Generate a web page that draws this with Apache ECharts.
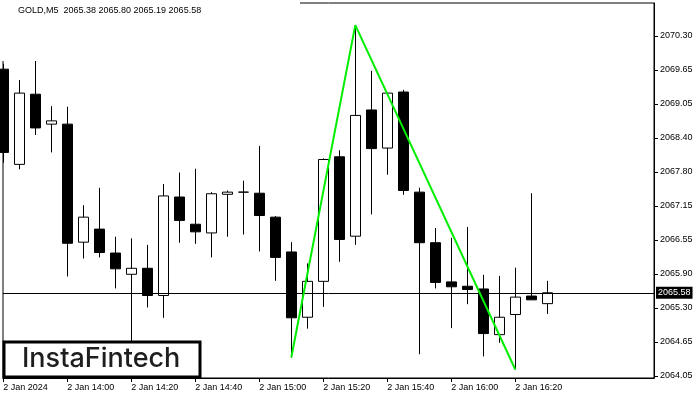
<!DOCTYPE html>
<html>
<head>
<meta charset="utf-8">
<script src="https://cdn.jsdelivr.net/npm/echarts@6/dist/echarts.min.js"></script>
<style>
html,body{margin:0;padding:0;background:#fff;}
#chart{width:700px;height:400px;}
</style>
</head>
<body>
<div id="chart"></div>
<script>
// Candle index (5-minute bars starting at 2 Jan 13:40)
var candleIndex = [0,1,2,3,4,5,6,7,8,9,10,11,12,13,14,15,16,17,18,19,20,21,22,23,24,25,26,27,28,29,30,31,32,33,34];
var opens  = [2069.69,2067.94,2069.23,2068.68,2068.68,2066.51,2066.75,2066.31,2065.92,2066.03,2065.53,2067.34,2066.84,2066.68,2067.39,2067.43,2067.41,2066.97,2066.33,2065.13,2065.79,2068.08,2066.62,2068.94,2068.24,2069.27,2067.43,2066.50,2065.78,2065.70,2065.65,2064.81,2065.18,2065.52,2065.38];
var highs  = [2069.79,2069.49,2069.84,2069.01,2069.00,2067.19,2067.51,2066.61,2066.58,2066.46,2067.58,2067.79,2067.86,2067.43,2067.46,2067.64,2068.28,2066.99,2066.51,2066.12,2068.05,2068.20,2070.50,2069.66,2069.26,2069.31,2067.51,2066.77,2066.59,2066.79,2065.91,2065.89,2066.04,2067.41,2065.80];
var lows   = [2067.97,2067.85,2068.48,2068.16,2065.88,2066.21,2066.23,2065.66,2064.62,2065.31,2065.12,2066.50,2066.48,2066.23,2066.61,2066.65,2066.34,2065.80,2064.39,2064.92,2065.32,2066.15,2066.46,2067.02,2067.75,2067.38,2064.45,2065.66,2064.93,2065.37,2064.41,2064.66,2064.17,2065.45,2065.19];
var closes = [2068.16,2069.25,2068.61,2068.74,2066.49,2066.97,2066.32,2066.02,2066.03,2065.53,2067.36,2066.91,2066.70,2067.40,2067.43,2067.43,2067.00,2066.23,2065.12,2065.79,2068.03,2066.56,2068.84,2068.23,2069.25,2067.46,2066.50,2065.77,2065.69,2065.64,2064.83,2065.13,2065.50,2065.45,2065.58];

// Double top pattern line: [candle index, price]
var patternIdx    = [18, 22, 32];
var patternPrices = [2064.39, 2070.50, 2064.17];

var lastPrice = 2065.58;
var titleText = 'GOLD,M5  2065.38 2065.80 2065.19 2065.58';

// Axis ticks
var xTickIdx    = [0, 4, 8, 12, 16, 20, 24, 28, 32];
var xTickLabels = ['2 Jan 2024','2 Jan 14:00','2 Jan 14:20','2 Jan 14:40','2 Jan 15:00','2 Jan 15:20','2 Jan 15:40','2 Jan 16:00','2 Jan 16:20'];
var yTickValues = [2064.05, 2064.675, 2065.30, 2065.925, 2066.55, 2067.175, 2067.80, 2068.425, 2069.05, 2069.675, 2070.30];
var yTickLabels = ['2064.05','2064.65','2065.30','2065.90','2066.55','2067.15','2067.80','2068.40','2069.05','2069.65','2070.30'];

var candleData = candleIndex.map(function (k, i) {
  return [k, opens[i], closes[i], lows[i], highs[i]];
});
var patternData = patternIdx.map(function (k, i) { return [k, patternPrices[i]]; });

var FONT = 'Liberation Sans';
var chart = echarts.init(document.getElementById('chart'), null, {renderer: 'canvas'});
chart.setOption({
  animation: false,
  backgroundColor: '#fff',
  grid: {left: 3, top: 3, right: 46, bottom: 22, show: true, borderColor: '#000', borderWidth: 1, backgroundColor: 'transparent'},
  xAxis: {
    type: 'value', min: -0.02, max: 40.67,
    axisLine: {show: true, onZero: false, lineStyle: {color: '#000', width: 1}},
    axisTick: {show: true, inside: false, customValues: xTickIdx, length: 4, lineStyle: {color: '#000'}},
    axisLabel: {
      show: true, customValues: xTickIdx, align: 'left', margin: 5,
      fontFamily: FONT, fontSize: 9, color: '#000',
      formatter: function (v) { var i = xTickIdx.indexOf(Math.round(v)); return i >= 0 ? xTickLabels[i] : ''; }
    },
    splitLine: {show: false}
  },
  yAxis: {
    type: 'value', position: 'right', min: 2064.0132, max: 2070.9066, scale: true,
    axisLine: {show: true, onZero: false, lineStyle: {color: '#000', width: 1}},
    axisTick: {show: true, inside: false, customValues: yTickValues, length: 4, lineStyle: {color: '#000'}},
    axisLabel: {
      show: true, customValues: yTickValues, margin: 6,
      fontFamily: FONT, fontSize: 9, color: '#000',
      formatter: function (v) {
        var best = 0, d = 1e9;
        for (var i = 0; i < yTickValues.length; i++) { var dd = Math.abs(yTickValues[i] - v); if (dd < d) { d = dd; best = i; } }
        return yTickLabels[best];
      }
    },
    splitLine: {show: false}
  },
  series: [
    {
      type: 'candlestick',
      dimensions: ['time', 'open', 'close', 'lowest', 'highest'],
      encode: {x: 'time', y: ['open', 'close', 'lowest', 'highest']},
      data: candleData,
      barWidth: 10,
      clip: true,
      itemStyle: {color: '#fff', color0: '#000', borderColor: '#000', borderColor0: '#000', borderWidth: 1},
      markLine: {
        silent: true, symbol: 'none', animation: false,
        lineStyle: {color: '#000', width: 1, type: 'solid'},
        label: {
          show: true, position: 'end', distance: 2,
          formatter: function () { return lastPrice.toFixed(2); },
          backgroundColor: '#000', color: '#fff', fontFamily: FONT, fontSize: 9,
          padding: [2, 2, 1, 2]
        },
        data: [{yAxis: lastPrice}]
      }
    },
    {
      type: 'line',
      data: patternData,
      symbol: 'none',
      lineStyle: {color: '#00ee00', width: 2},
      z: 5
    }
  ],
  graphic: [
    {type: 'rect', z: 1, shape: {x: 0, y: 0, width: 300, height: 61}, style: {fill: '#fff'}},
    {type: 'text', z: 10, left: 18, top: 6, style: {text: titleText, fontFamily: FONT, fontSize: 9, fill: '#000'}},
    {type: 'rect', z: 20, shape: {x: 4, y: 342, width: 196, height: 35}, style: {fill: '#fff', stroke: '#000', lineWidth: 3}},
    {type: 'text', z: 21, left: 22, top: 345, style: {text: 'InstaFintech', fontFamily: 'Inter', fontSize: 27, fontWeight: 500, fill: '#1e1e1e'}}
  ]
});
</script>
</body>
</html>
